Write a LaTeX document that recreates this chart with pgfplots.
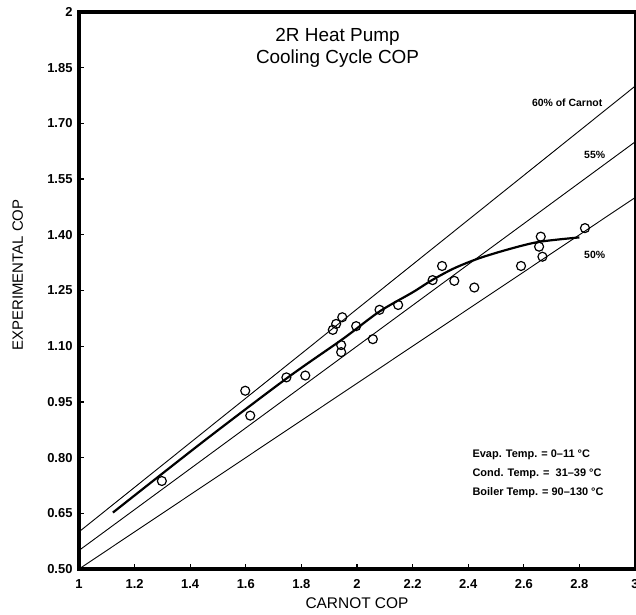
\documentclass[border=0pt]{standalone}
\usepackage{fontspec}
\setmainfont{Liberation Sans}
\usepackage{pgfplots}
\pgfplotsset{compat=1.18}
\begin{document}
\begin{tikzpicture}
\begin{axis}[
  scale only axis,
  width=556bp, height=557bp,
  xmin=1, xmax=3, ymin=0.5, ymax=2,
  axis line style={draw=none},
  tick pos=left,
  tick align=inside,
  major tick length=5bp,
  tick style={black, line width=1.3pt},
  xtick={1,1.2,1.4,1.6,1.8,2,2.2,2.4,2.6,2.8,3},
  xticklabels={1,1.2,1.4,1.6,1.8,2,2.2,2.4,2.6,2.8,3},
  ytick={0.5,0.65,0.8,0.95,1.1,1.25,1.4,1.55,1.7,1.85,2},
  yticklabels={0.50,0.65,0.80,0.95,1.10,1.25,1.40,1.55,1.70,1.85,2},
  /pgf/number format/assume math mode=true,
  ticklabel style={font=\fontsize{13}{15}\selectfont\bfseries},
  yticklabel style={xshift=-3bp},
  xticklabel style={yshift=-7bp},
  xlabel={CARNOT COP},
  ylabel={EXPERIMENTAL COP},
  xlabel style={font=\fontsize{15.5}{18}\selectfont, at={(rel axis cs:0.5,-0.0610)}, anchor=center},
  ylabel style={font=\fontsize{15}{18}\selectfont, at={(rel axis cs:-0.110,0.528)}, anchor=center, rotate=0},
  clip=false,
]
% percent of Carnot lines
\addplot[black, line width=0.9pt, no marks] coordinates {(1,0.6) (3,1.8)};
\addplot[black, line width=0.9pt, no marks] coordinates {(1,0.55) (3,1.65)};
\addplot[black, line width=0.9pt, no marks] coordinates {(1,0.5) (3,1.5)};

% fitted curve
\addplot[black, line width=2.2pt, no marks, smooth, tension=0.5] coordinates {
(1.122,0.652) (1.45,0.845) (1.75,1.015) (1.95,1.120) (2.08,1.193)
(2.2,1.245) (2.27,1.278) (2.35,1.310) (2.44,1.337) (2.55,1.362)
(2.655,1.381) (2.80,1.393)};

% data
\addplot[only marks, mark=o, mark size=4.5bp, mark options={line width=1.2pt, black, fill=white}] coordinates {
(1.298,0.737) (1.598,0.980) (1.616,0.913) (1.746,1.016) (1.814,1.021)
(1.913,1.144) (1.925,1.160) (1.947,1.178) (1.997,1.154) (1.943,1.103)
(1.943,1.084) (2.057,1.119) (2.081,1.198) (2.148,1.211) (2.272,1.278)
(2.306,1.316) (2.350,1.276) (2.422,1.258) (2.590,1.316) (2.661,1.395)
(2.655,1.368) (2.667,1.341) (2.820,1.418)};

% texts
\node[align=center, font=\fontsize{19}{22}\selectfont] at (axis cs:1.93,1.903) {2R Heat Pump\\Cooling Cycle COP};
\node[font=\fontsize{10.5}{12}\selectfont\bfseries] at (axis cs:2.756,1.755) {60\% of Carnot};
\node[font=\fontsize{10.5}{12}\selectfont\bfseries] at (axis cs:2.855,1.615) {55\%};
\node[font=\fontsize{10.5}{12}\selectfont\bfseries] at (axis cs:2.855,1.346) {50\%};
\node[anchor=west, inner sep=0pt, font=\fontsize{11}{13}\selectfont\bfseries] at (axis cs:2.415,0.807) {Evap. Temp. = 0–11 °C};
\node[anchor=west, inner sep=0pt, font=\fontsize{11}{13}\selectfont\bfseries] at (axis cs:2.415,0.756) {Cond. Temp. = \ 31–39 °C};
\node[anchor=west, inner sep=0pt, font=\fontsize{11}{13}\selectfont\bfseries] at (axis cs:2.415,0.705) {Boiler Temp. = 90–130 °C};
\end{axis}
% frame
\draw[black, line width=3.2bp, line cap=rect] (0,0) -- (0,557bp) -- (556bp,557bp);
\draw[black, line width=3.2bp, line cap=rect] (0,0) -- (556bp,0);
\draw[black, line width=1.2bp] (556bp,0) -- (556bp,557bp);
\pgfresetboundingbox
\path (-79bp,-46bp) rectangle (557bp,569bp);
\end{tikzpicture}
\end{document}
